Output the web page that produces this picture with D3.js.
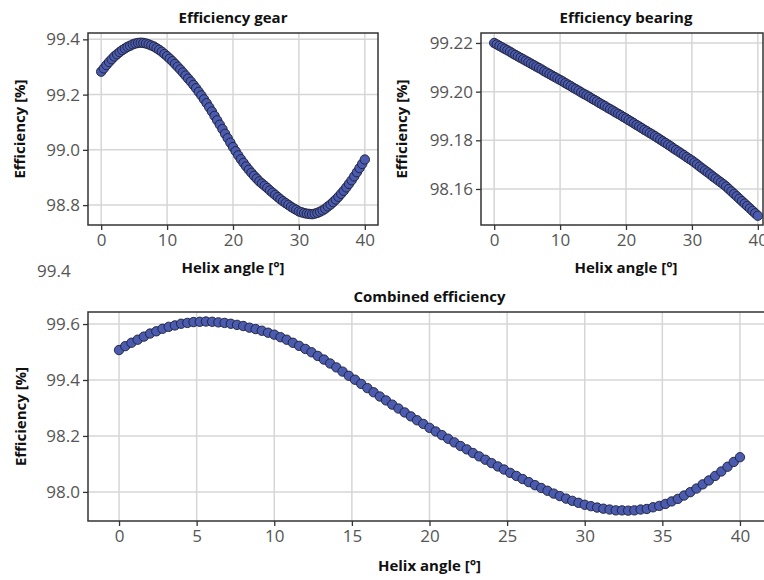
<!DOCTYPE html>
<html>
<head>
<meta charset="utf-8">
<script src="https://cdn.jsdelivr.net/npm/d3@7"></script>
<style>
  body { margin: 0; background: #fff; }
  .tick text { font-family: 'Open Sans', sans-serif; font-size: 17px; fill: #555; }
  .lbl { font-family: 'Open Sans', sans-serif; font-size: 15px; font-weight: bold; fill: #111; }
</style>
</head>
<body>
<div class="box"></div>
<script>
// helix angle [°]
const angles = [
  0, 0.4, 0.8, 1.2, 1.6, 2, 2.4, 2.8, 3.2, 3.6,
  4, 4.4, 4.8, 5.2, 5.6, 6, 6.4, 6.8, 7.2, 7.6,
  8, 8.4, 8.8, 9.2, 9.6, 10, 10.4, 10.8, 11.2, 11.6,
  12, 12.4, 12.8, 13.2, 13.6, 14, 14.4, 14.8, 15.2, 15.6,
  16, 16.4, 16.8, 17.2, 17.6, 18, 18.4, 18.8, 19.2, 19.6,
  20, 20.4, 20.8, 21.2, 21.6, 22, 22.4, 22.8, 23.2, 23.6,
  24, 24.4, 24.8, 25.2, 25.6, 26, 26.4, 26.8, 27.2, 27.6,
  28, 28.4, 28.8, 29.2, 29.6, 30, 30.4, 30.8, 31.2, 31.6,
  32, 32.4, 32.8, 33.2, 33.6, 34, 34.4, 34.8, 35.2, 35.6,
  36, 36.4, 36.8, 37.2, 37.6, 38, 38.4, 38.8, 39.2, 39.6,
  40
]

const effGear = [
  99.283, 99.295, 99.307, 99.318, 99.328, 99.338, 99.346, 99.354, 99.361, 99.367,
  99.373, 99.377, 99.382, 99.385, 99.387, 99.388, 99.387, 99.385, 99.382, 99.378,
  99.374, 99.368, 99.362, 99.355, 99.347, 99.339, 99.330, 99.321, 99.311, 99.301,
  99.291, 99.280, 99.269, 99.258, 99.247, 99.235, 99.223, 99.210, 99.197, 99.183,
  99.169, 99.154, 99.139, 99.123, 99.107, 99.091, 99.075, 99.058, 99.042, 99.026,
  99.010, 98.995, 98.980, 98.966, 98.953, 98.940, 98.928, 98.917, 98.906, 98.896,
  98.886, 98.878, 98.870, 98.862, 98.853, 98.845, 98.837, 98.829, 98.821, 98.814,
  98.807, 98.801, 98.794, 98.788, 98.783, 98.777, 98.774, 98.771, 98.769, 98.768,
  98.767, 98.769, 98.772, 98.776, 98.781, 98.787, 98.795, 98.802, 98.811, 98.820,
  98.830, 98.841, 98.852, 98.864, 98.877, 98.890, 98.904, 98.919, 98.934, 98.949,
  98.965
]

const effBearing = [
  99.2200, 99.2194, 99.2188, 99.2182, 99.2176, 99.2170, 99.2164, 99.2157, 99.2151, 99.2145,
  99.2139, 99.2133, 99.2127, 99.2121, 99.2115, 99.2109, 99.2103, 99.2097, 99.2091, 99.2084,
  99.2078, 99.2072, 99.2066, 99.2060, 99.2054, 99.2048, 99.2042, 99.2035, 99.2029, 99.2023,
  99.2016, 99.2010, 99.2004, 99.1997, 99.1991, 99.1985, 99.1979, 99.1972, 99.1966, 99.1960,
  99.1953, 99.1947, 99.1941, 99.1934, 99.1928, 99.1922, 99.1915, 99.1909, 99.1903, 99.1896,
  99.1890, 99.1883, 99.1877, 99.1870, 99.1863, 99.1857, 99.1850, 99.1843, 99.1837, 99.1830,
  99.1824, 99.1817, 99.1810, 99.1803, 99.1796, 99.1789, 99.1782, 99.1775, 99.1767, 99.1760,
  99.1753, 99.1746, 99.1739, 99.1731, 99.1724, 99.1717, 99.1709, 99.1701, 99.1692, 99.1684,
  99.1676, 99.1668, 99.1660, 99.1651, 99.1643, 99.1635, 99.1627, 99.1619, 99.1610, 99.1600,
  99.1590, 99.1580, 99.1570, 99.1560, 99.1550, 99.1540, 99.1530, 99.1520, 99.1510, 99.1500,
  99.1490
]

const effCombined = [
  99.507, 99.521, 99.533, 99.544, 99.555, 99.566, 99.574, 99.583, 99.590, 99.595,
  99.601, 99.604, 99.607, 99.608, 99.609, 99.608, 99.606, 99.604, 99.601, 99.597,
  99.593, 99.587, 99.582, 99.576, 99.569, 99.562, 99.553, 99.544, 99.533, 99.522,
  99.511, 99.499, 99.486, 99.473, 99.459, 99.445, 99.430, 99.415, 99.401, 99.386,
  99.371, 99.356, 99.341, 99.327, 99.312, 99.298, 99.284, 99.270, 99.256, 99.243,
  99.229, 99.216, 99.203, 99.190, 99.177, 99.164, 99.152, 99.139, 99.127, 99.115,
  99.103, 99.091, 99.080, 99.068, 99.057, 99.046, 99.035, 99.024, 99.014, 99.004,
  98.994, 98.985, 98.976, 98.968, 98.961, 98.954, 98.949, 98.944, 98.940, 98.937,
  98.934, 98.934, 98.933, 98.934, 98.937, 98.939, 98.945, 98.950, 98.957, 98.966,
  98.975, 98.987, 98.999, 99.012, 99.027, 99.041, 99.057, 99.073, 99.090, 99.107,
  99.124
]

// ticks and their labels (labels as printed on the figure)
const gearTicks = [98.8, 99.0, 99.2, 99.4]
const gearLabels = ['98.8', '99.0', '99.2', '99.4']
const bearingTicks = [99.16, 99.18, 99.20, 99.22]
const bearingLabels = ['98.16', '99.18', '99.20', '99.22']
const combinedTicks = [99.0, 99.2, 99.4, 99.6]
const combinedLabels = ['98.0', '98.2', '99.4', '99.6']
const xTicksTop = [0, 10, 20, 30, 40]
const xTicksBottom = [0, 5, 10, 15, 20, 25, 30, 35, 40]

const svg = d3.select('.box')
  .append('svg')
  .attr('width', 764)
  .attr('height', 580)
  .style('background-color', '#fff')

function panel(p) {
  const x = d3.scaleLinear().domain([-2, 42]).range([p.left, p.xEnd])
  const y = d3.scaleLinear().domain(p.yDomain).range([p.top + p.h, p.top])
  const g = svg.append('g')

  // grid
  g.append('g').selectAll('line.gx')
    .data(p.xTicks).enter().append('line')
    .attr('x1', d => x(d)).attr('x2', d => x(d))
    .attr('y1', p.top).attr('y2', p.top + p.h)
    .attr('stroke', '#d6d6d6').attr('stroke-width', 1.5)
  g.append('g').selectAll('line.gy')
    .data(p.yTicks).enter().append('line')
    .attr('x1', p.left).attr('x2', p.left + p.w)
    .attr('y1', d => y(d)).attr('y2', d => y(d))
    .attr('stroke', '#d6d6d6').attr('stroke-width', 1.5)

  // points
  g.append('g').selectAll('circle')
    .data(angles).enter().append('circle')
    .attr('cx', d => x(d))
    .attr('cy', (d, i) => y(p.values[i]))
    .attr('r', 4.7)
    .attr('fill', '#4a5bb0')
    .attr('stroke', '#1d1f33')
    .attr('stroke-width', 0.9)

  // frame
  g.append('rect')
    .attr('x', p.left).attr('y', p.top)
    .attr('width', p.w).attr('height', p.h)
    .attr('fill', 'none').attr('stroke', '#333').attr('stroke-width', 1.5)

  const axeX = d3.axisBottom(x).tickValues(p.xTicks).tickSize(5).tickPadding(4)
  const axeY = d3.axisLeft(y).tickValues(p.yTicks).tickSize(5).tickPadding(3)
    .tickFormat((d, i) => p.yLabels[i])

  const gx = g.append('g').attr('transform', `translate(0, ${p.top + p.h})`).call(axeX)
  const gy = g.append('g').attr('transform', `translate(${p.left}, 0)`).call(axeY)
  gx.select('.domain').remove()
  gy.select('.domain').remove()
  g.selectAll('.tick line').attr('stroke', '#333').attr('stroke-width', 1.3)

  const cx = x(20)
  g.append('text').attr('class', 'lbl')
    .attr('x', cx).attr('y', p.top - 10)
    .attr('text-anchor', 'middle').text(p.title)
  g.append('text').attr('class', 'lbl')
    .attr('x', cx).attr('y', p.top + p.h + p.xLabelDy)
    .attr('text-anchor', 'middle').text('Helix angle [°]')
  g.append('text').attr('class', 'lbl')
    .attr('transform', `translate(${p.yLabelX}, ${p.top + p.h / 2}) rotate(-90)`)
    .attr('text-anchor', 'middle').text('Efficiency [%]')
}

panel({ left: 88, top: 33, w: 290, h: 192, xEnd: 378, yDomain: [98.728, 99.423],
  xTicks: xTicksTop, yTicks: gearTicks, yLabels: gearLabels, values: effGear,
  title: 'Efficiency gear', xLabelDy: 48, yLabelX: 25 })

panel({ left: 481, top: 33, w: 282, h: 192, xEnd: 771, yDomain: [99.1452, 99.2241],
  xTicks: xTicksTop, yTicks: bearingTicks, yLabels: bearingLabels, values: effBearing,
  title: 'Efficiency bearing', xLabelDy: 48, yLabelX: 407 })

panel({ left: 88, top: 312, w: 700, h: 209, xEnd: 771, yDomain: [98.896, 99.643],
  xTicks: xTicksBottom, yTicks: combinedTicks, yLabels: combinedLabels, values: effCombined,
  title: 'Combined efficiency', xLabelDy: 50, yLabelX: 26 })

// stray label left on the figure
svg.append('text')
  .attr('x', 37).attr('y', 277)
  .style('font-family', "'Open Sans', sans-serif").style('font-size', '17px').style('fill', '#555')
  .text('99.4')
</script>
</body>
</html>
